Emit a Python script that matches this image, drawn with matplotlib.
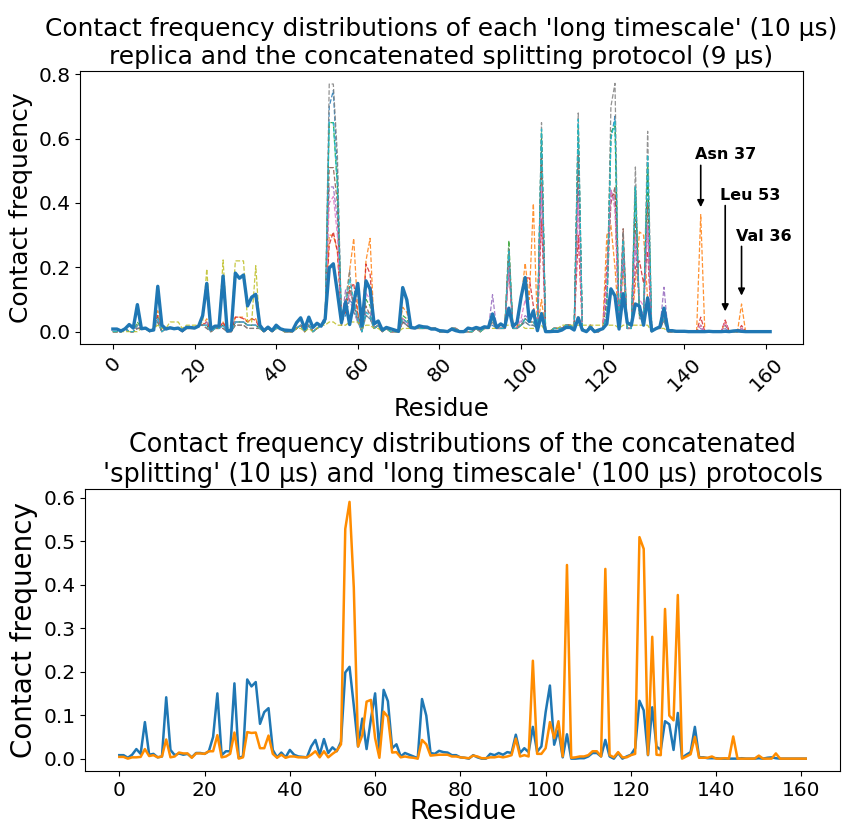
import numpy as np
import matplotlib
matplotlib.use('Agg')
import matplotlib.pyplot as plt

# residue index
residues = np.arange(162)

# concatenated splitting protocol
split = [0.008, 0.008, 0.002, 0.009, 0.022, 0.011, 0.084, 0.009, 0.011, 0.003,
         0.005, 0.141, 0.020, 0.008, 0.012, 0.009, 0.011, 0.003, 0.013, 0.013,
         0.011, 0.017, 0.050, 0.150, 0.008, 0.017, 0.017, 0.173, 0.002, 0.005,
         0.182, 0.166, 0.176, 0.080, 0.107, 0.116, 0.020, 0.003, 0.014, 0.003,
         0.020, 0.009, 0.005, 0.004, 0.003, 0.028, 0.043, 0.009, 0.045, 0.013,
         0.026, 0.017, 0.039, 0.198, 0.211, 0.122, 0.028, 0.092, 0.022, 0.090,
         0.150, 0.017, 0.158, 0.132, 0.024, 0.033, 0.005, 0.013, 0.009, 0.005,
         0.001, 0.137, 0.099, 0.013, 0.011, 0.018, 0.015, 0.014, 0.008, 0.008,
         0.003, 0.002, 0.000, 0.008, 0.003, 0.000, 0.000, 0.011, 0.008, 0.013,
         0.009, 0.015, 0.013, 0.055, 0.013, 0.024, 0.015, 0.073, 0.016, 0.028,
         0.107, 0.168, 0.032, 0.065, 0.003, 0.056, 0.000, 0.000, 0.001, 0.001,
         0.005, 0.013, 0.013, 0.005, 0.043, 0.005, 0.000, 0.013, 0.000, 0.005,
         0.009, 0.024, 0.133, 0.111, 0.008, 0.118, 0.028, 0.020, 0.086, 0.079,
         0.020, 0.105, 0.002, 0.009, 0.015, 0.073, 0.003, 0.003, 0.001, 0.001,
         0.001, 0.000, 0.000, 0.000, 0.000, 0.000, 0.001, 0.000, 0.000, 0.000,
         0.001, 0.000, 0.002, 0.003, 0.001, 0.000, 0.000, 0.000, 0.000, 0.000,
         0.000, 0.000]

# concatenated long timescale protocol
long_cat = [0.004, 0.004, 0.000, 0.003, 0.003, 0.004, 0.022, 0.006, 0.008, 0.003,
            0.005, 0.044, 0.003, 0.005, 0.014, 0.012, 0.012, 0.002, 0.012, 0.012,
            0.011, 0.017, 0.017, 0.054, 0.003, 0.005, 0.011, 0.060, 0.000, 0.003,
            0.061, 0.059, 0.060, 0.024, 0.024, 0.053, 0.011, 0.002, 0.009, 0.002,
            0.005, 0.005, 0.003, 0.003, 0.003, 0.009, 0.017, 0.003, 0.017, 0.003,
            0.011, 0.018, 0.033, 0.528, 0.590, 0.393, 0.028, 0.054, 0.131, 0.135,
            0.047, 0.002, 0.108, 0.096, 0.014, 0.015, 0.003, 0.005, 0.003, 0.002,
            0.000, 0.043, 0.033, 0.007, 0.008, 0.009, 0.009, 0.009, 0.005, 0.005,
            0.003, 0.002, 0.001, 0.007, 0.005, 0.001, 0.001, 0.003, 0.003, 0.005,
            0.003, 0.005, 0.008, 0.046, 0.005, 0.008, 0.005, 0.225, 0.011, 0.011,
            0.024, 0.084, 0.047, 0.086, 0.005, 0.445, 0.002, 0.003, 0.005, 0.005,
            0.008, 0.017, 0.017, 0.005, 0.436, 0.008, 0.003, 0.015, 0.003, 0.003,
            0.008, 0.011, 0.509, 0.482, 0.009, 0.280, 0.009, 0.008, 0.344, 0.099,
            0.088, 0.376, 0.000, 0.005, 0.010, 0.050, 0.002, 0.002, 0.002, 0.005,
            0.000, 0.000, 0.001, 0.000, 0.051, 0.000, 0.000, 0.000, 0.000, 0.000,
            0.007, 0.000, 0.000, 0.000, 0.012, 0.000, 0.000, 0.000, 0.000, 0.000,
            0.000, 0.000]

# the ten 10 us replicas (dashed lines in the top panel)
rep1 = [0.00, 0.00, 0.00, 0.01, 0.00, 0.00, 0.01, 0.01, 0.01, 0.00,
        0.01, 0.03, 0.00, 0.01, 0.01, 0.01, 0.01, 0.00, 0.01, 0.01,
        0.01, 0.02, 0.02, 0.02, 0.00, 0.01, 0.01, 0.02, 0.00, 0.00,
        0.03, 0.03, 0.03, 0.02, 0.02, 0.02, 0.01, 0.00, 0.01, 0.00,
        0.01, 0.01, 0.00, 0.00, 0.00, 0.01, 0.02, 0.00, 0.02, 0.00,
        0.01, 0.02, 0.03, 0.70, 0.75, 0.50, 0.03, 0.05, 0.10, 0.08,
        0.03, 0.00, 0.05, 0.04, 0.01, 0.02, 0.00, 0.01, 0.00, 0.00,
        0.00, 0.03, 0.02, 0.01, 0.01, 0.01, 0.01, 0.01, 0.01, 0.01,
        0.00, 0.00, 0.00, 0.01, 0.01, 0.00, 0.00, 0.00, 0.00, 0.01,
        0.00, 0.01, 0.01, 0.02, 0.01, 0.01, 0.01, 0.22, 0.01, 0.01,
        0.02, 0.03, 0.02, 0.02, 0.01, 0.60, 0.00, 0.00, 0.01, 0.01,
        0.01, 0.02, 0.02, 0.01, 0.60, 0.01, 0.00, 0.02, 0.00, 0.00,
        0.01, 0.05, 0.60, 0.67, 0.01, 0.25, 0.01, 0.01, 0.45, 0.05,
        0.05, 0.50, 0.00, 0.01, 0.01, 0.04, 0.00, 0.00, 0.00, 0.00,
        0.00, 0.00, 0.00, 0.00, 0.00, 0.00, 0.00, 0.00, 0.00, 0.00,
        0.00, 0.00, 0.00, 0.00, 0.00, 0.00, 0.00, 0.00, 0.00, 0.00,
        0.00, 0.00]
rep2 = [0.00, 0.00, 0.00, 0.01, 0.00, 0.00, 0.02, 0.01, 0.01, 0.00,
        0.01, 0.065, 0.00, 0.01, 0.01, 0.01, 0.01, 0.00, 0.01, 0.01,
        0.01, 0.02, 0.02, 0.04, 0.00, 0.01, 0.01, 0.03, 0.00, 0.00,
        0.045, 0.045, 0.045, 0.03, 0.04, 0.04, 0.01, 0.00, 0.01, 0.00,
        0.01, 0.01, 0.00, 0.00, 0.00, 0.01, 0.02, 0.00, 0.02, 0.00,
        0.01, 0.02, 0.03, 0.30, 0.30, 0.25, 0.05, 0.06, 0.19, 0.29,
        0.06, 0.00, 0.22, 0.29, 0.01, 0.02, 0.00, 0.01, 0.00, 0.00,
        0.00, 0.076, 0.06, 0.01, 0.01, 0.01, 0.01, 0.01, 0.01, 0.01,
        0.00, 0.00, 0.00, 0.01, 0.01, 0.00, 0.00, 0.00, 0.00, 0.01,
        0.00, 0.01, 0.01, 0.04, 0.01, 0.01, 0.01, 0.20, 0.01, 0.01,
        0.10, 0.213, 0.10, 0.398, 0.01, 0.10, 0.00, 0.00, 0.01, 0.01,
        0.01, 0.02, 0.02, 0.01, 0.05, 0.01, 0.00, 0.02, 0.00, 0.00,
        0.01, 0.30, 0.33, 0.20, 0.01, 0.20, 0.01, 0.01, 0.15, 0.31,
        0.30, 0.10, 0.00, 0.01, 0.01, 0.05, 0.00, 0.00, 0.00, 0.00,
        0.00, 0.00, 0.00, 0.00, 0.364, 0.00, 0.00, 0.00, 0.00, 0.00,
        0.03, 0.00, 0.00, 0.00, 0.086, 0.00, 0.00, 0.00, 0.00, 0.00,
        0.00, 0.00]
rep3 = [0.00, 0.00, 0.00, 0.01, 0.00, 0.00, 0.03, 0.01, 0.01, 0.00,
        0.01, 0.045, 0.00, 0.01, 0.01, 0.01, 0.01, 0.00, 0.01, 0.01,
        0.01, 0.02, 0.02, 0.02, 0.00, 0.01, 0.01, 0.02, 0.00, 0.00,
        0.03, 0.03, 0.03, 0.02, 0.02, 0.02, 0.01, 0.00, 0.01, 0.00,
        0.01, 0.01, 0.00, 0.00, 0.00, 0.01, 0.02, 0.00, 0.02, 0.00,
        0.01, 0.02, 0.03, 0.65, 0.65, 0.45, 0.03, 0.08, 0.12, 0.10,
        0.04, 0.00, 0.10, 0.08, 0.01, 0.02, 0.00, 0.01, 0.00, 0.00,
        0.00, 0.05, 0.04, 0.01, 0.01, 0.01, 0.01, 0.01, 0.01, 0.01,
        0.00, 0.00, 0.00, 0.01, 0.01, 0.00, 0.00, 0.00, 0.00, 0.01,
        0.00, 0.01, 0.01, 0.04, 0.01, 0.01, 0.01, 0.283, 0.01, 0.01,
        0.02, 0.04, 0.03, 0.03, 0.01, 0.62, 0.00, 0.00, 0.01, 0.01,
        0.01, 0.02, 0.02, 0.01, 0.64, 0.01, 0.00, 0.02, 0.00, 0.00,
        0.01, 0.10, 0.62, 0.64, 0.01, 0.25, 0.01, 0.01, 0.45, 0.05,
        0.05, 0.52, 0.00, 0.01, 0.01, 0.05, 0.00, 0.00, 0.00, 0.00,
        0.00, 0.00, 0.00, 0.00, 0.00, 0.00, 0.00, 0.00, 0.00, 0.00,
        0.00, 0.00, 0.00, 0.00, 0.00, 0.00, 0.00, 0.00, 0.00, 0.00,
        0.00, 0.00]
rep4 = [0.00, 0.00, 0.00, 0.01, 0.00, 0.00, 0.02, 0.01, 0.01, 0.00,
        0.01, 0.05, 0.00, 0.01, 0.01, 0.01, 0.01, 0.00, 0.01, 0.01,
        0.01, 0.02, 0.02, 0.03, 0.00, 0.01, 0.01, 0.03, 0.00, 0.00,
        0.045, 0.045, 0.04, 0.03, 0.04, 0.035, 0.01, 0.00, 0.01, 0.00,
        0.01, 0.01, 0.00, 0.00, 0.00, 0.01, 0.02, 0.00, 0.02, 0.00,
        0.01, 0.02, 0.04, 0.27, 0.31, 0.25, 0.04, 0.06, 0.13, 0.15,
        0.05, 0.00, 0.21, 0.18, 0.01, 0.02, 0.00, 0.01, 0.00, 0.00,
        0.00, 0.04, 0.03, 0.01, 0.01, 0.01, 0.01, 0.01, 0.01, 0.01,
        0.00, 0.00, 0.00, 0.01, 0.01, 0.00, 0.00, 0.00, 0.00, 0.01,
        0.00, 0.01, 0.01, 0.05, 0.01, 0.01, 0.01, 0.22, 0.01, 0.01,
        0.10, 0.167, 0.167, 0.08, 0.01, 0.35, 0.00, 0.00, 0.01, 0.01,
        0.01, 0.02, 0.02, 0.01, 0.30, 0.01, 0.00, 0.02, 0.00, 0.00,
        0.01, 0.20, 0.42, 0.43, 0.01, 0.28, 0.01, 0.01, 0.20, 0.22,
        0.15, 0.25, 0.00, 0.01, 0.01, 0.04, 0.00, 0.00, 0.00, 0.00,
        0.00, 0.00, 0.00, 0.00, 0.045, 0.00, 0.00, 0.00, 0.00, 0.00,
        0.036, 0.00, 0.00, 0.00, 0.019, 0.00, 0.00, 0.00, 0.00, 0.00,
        0.00, 0.00]
rep5 = [0.00, 0.00, 0.00, 0.01, 0.00, 0.00, 0.01, 0.01, 0.01, 0.00,
        0.01, 0.04, 0.00, 0.01, 0.01, 0.01, 0.01, 0.00, 0.01, 0.01,
        0.01, 0.02, 0.02, 0.03, 0.00, 0.01, 0.01, 0.02, 0.00, 0.00,
        0.03, 0.03, 0.03, 0.02, 0.02, 0.02, 0.01, 0.00, 0.01, 0.00,
        0.01, 0.01, 0.00, 0.00, 0.00, 0.01, 0.02, 0.00, 0.02, 0.00,
        0.01, 0.02, 0.05, 0.45, 0.45, 0.35, 0.03, 0.13, 0.10, 0.06,
        0.03, 0.00, 0.06, 0.06, 0.01, 0.02, 0.00, 0.01, 0.00, 0.00,
        0.00, 0.03, 0.03, 0.01, 0.01, 0.01, 0.01, 0.01, 0.01, 0.01,
        0.00, 0.00, 0.00, 0.01, 0.01, 0.00, 0.00, 0.00, 0.00, 0.01,
        0.00, 0.01, 0.01, 0.115, 0.01, 0.01, 0.01, 0.20, 0.01, 0.01,
        0.03, 0.05, 0.04, 0.05, 0.01, 0.45, 0.00, 0.00, 0.01, 0.01,
        0.01, 0.02, 0.02, 0.01, 0.45, 0.01, 0.00, 0.02, 0.00, 0.00,
        0.01, 0.15, 0.44, 0.40, 0.01, 0.22, 0.01, 0.01, 0.265, 0.08,
        0.05, 0.33, 0.00, 0.01, 0.01, 0.138, 0.00, 0.00, 0.00, 0.00,
        0.00, 0.00, 0.00, 0.00, 0.01, 0.00, 0.00, 0.00, 0.00, 0.00,
        0.01, 0.00, 0.00, 0.00, 0.00, 0.00, 0.00, 0.00, 0.00, 0.00,
        0.00, 0.00]
rep6 = [0.00, 0.00, 0.00, 0.01, 0.00, 0.00, 0.01, 0.01, 0.01, 0.00,
        0.01, 0.03, 0.00, 0.01, 0.01, 0.01, 0.01, 0.00, 0.01, 0.01,
        0.01, 0.02, 0.02, 0.01, 0.00, 0.01, 0.01, 0.01, 0.00, 0.00,
        0.02, 0.02, 0.02, 0.01, 0.01, 0.01, 0.01, 0.00, 0.01, 0.00,
        0.01, 0.01, 0.00, 0.00, 0.00, 0.01, 0.02, 0.00, 0.02, 0.00,
        0.01, 0.02, 0.03, 0.51, 0.51, 0.40, 0.02, 0.09, 0.14, 0.08,
        0.05, 0.00, 0.08, 0.05, 0.01, 0.02, 0.00, 0.01, 0.00, 0.00,
        0.00, 0.03, 0.02, 0.01, 0.01, 0.01, 0.01, 0.01, 0.01, 0.01,
        0.00, 0.00, 0.00, 0.01, 0.01, 0.00, 0.00, 0.00, 0.00, 0.01,
        0.00, 0.01, 0.01, 0.03, 0.01, 0.01, 0.01, 0.25, 0.01, 0.01,
        0.02, 0.04, 0.03, 0.03, 0.01, 0.55, 0.00, 0.00, 0.01, 0.01,
        0.01, 0.02, 0.02, 0.01, 0.55, 0.01, 0.00, 0.02, 0.00, 0.00,
        0.01, 0.10, 0.40, 0.45, 0.01, 0.32, 0.01, 0.01, 0.35, 0.05,
        0.05, 0.40, 0.00, 0.01, 0.01, 0.04, 0.00, 0.00, 0.00, 0.00,
        0.00, 0.00, 0.00, 0.00, 0.02, 0.00, 0.00, 0.00, 0.00, 0.00,
        0.02, 0.00, 0.00, 0.00, 0.01, 0.00, 0.00, 0.00, 0.00, 0.00,
        0.00, 0.00]
rep7 = [0.00, 0.00, 0.00, 0.01, 0.00, 0.00, 0.02, 0.01, 0.01, 0.00,
        0.01, 0.04, 0.00, 0.01, 0.01, 0.01, 0.01, 0.00, 0.01, 0.01,
        0.01, 0.02, 0.02, 0.02, 0.00, 0.01, 0.01, 0.02, 0.00, 0.00,
        0.03, 0.03, 0.03, 0.02, 0.02, 0.02, 0.01, 0.00, 0.01, 0.00,
        0.01, 0.01, 0.00, 0.00, 0.00, 0.01, 0.02, 0.00, 0.02, 0.00,
        0.01, 0.02, 0.04, 0.40, 0.42, 0.30, 0.03, 0.08, 0.12, 0.10,
        0.04, 0.00, 0.12, 0.10, 0.01, 0.02, 0.00, 0.01, 0.00, 0.00,
        0.00, 0.04, 0.03, 0.01, 0.01, 0.01, 0.01, 0.01, 0.01, 0.01,
        0.00, 0.00, 0.00, 0.01, 0.01, 0.00, 0.00, 0.00, 0.00, 0.01,
        0.00, 0.01, 0.01, 0.05, 0.01, 0.01, 0.01, 0.20, 0.01, 0.01,
        0.04, 0.10, 0.05, 0.06, 0.01, 0.45, 0.00, 0.00, 0.01, 0.01,
        0.01, 0.02, 0.02, 0.01, 0.40, 0.01, 0.00, 0.02, 0.00, 0.00,
        0.01, 0.15, 0.44, 0.38, 0.01, 0.25, 0.01, 0.01, 0.30, 0.10,
        0.08, 0.33, 0.00, 0.01, 0.01, 0.05, 0.00, 0.00, 0.00, 0.00,
        0.00, 0.00, 0.00, 0.00, 0.02, 0.00, 0.00, 0.00, 0.00, 0.00,
        0.03, 0.00, 0.00, 0.00, 0.01, 0.00, 0.00, 0.00, 0.00, 0.00,
        0.00, 0.00]
rep8 = [0.00, 0.00, 0.00, 0.01, 0.00, 0.00, 0.01, 0.01, 0.01, 0.00,
        0.01, 0.03, 0.00, 0.01, 0.01, 0.01, 0.01, 0.00, 0.01, 0.01,
        0.01, 0.02, 0.02, 0.01, 0.00, 0.01, 0.01, 0.01, 0.00, 0.00,
        0.02, 0.02, 0.02, 0.01, 0.01, 0.01, 0.01, 0.00, 0.01, 0.00,
        0.01, 0.01, 0.00, 0.00, 0.00, 0.01, 0.02, 0.00, 0.02, 0.00,
        0.01, 0.02, 0.03, 0.77, 0.77, 0.55, 0.02, 0.10, 0.19, 0.06,
        0.04, 0.00, 0.05, 0.04, 0.01, 0.02, 0.00, 0.01, 0.00, 0.00,
        0.00, 0.03, 0.02, 0.01, 0.01, 0.01, 0.01, 0.01, 0.01, 0.01,
        0.00, 0.00, 0.00, 0.01, 0.01, 0.00, 0.00, 0.00, 0.00, 0.01,
        0.00, 0.01, 0.01, 0.03, 0.01, 0.01, 0.01, 0.26, 0.01, 0.01,
        0.02, 0.03, 0.02, 0.02, 0.01, 0.65, 0.00, 0.00, 0.01, 0.01,
        0.01, 0.02, 0.02, 0.01, 0.68, 0.01, 0.00, 0.02, 0.00, 0.00,
        0.01, 0.05, 0.70, 0.772, 0.01, 0.31, 0.01, 0.01, 0.512, 0.04,
        0.04, 0.623, 0.00, 0.01, 0.01, 0.03, 0.00, 0.00, 0.00, 0.00,
        0.00, 0.00, 0.00, 0.00, 0.00, 0.00, 0.00, 0.00, 0.00, 0.00,
        0.00, 0.00, 0.00, 0.00, 0.00, 0.00, 0.00, 0.00, 0.00, 0.00,
        0.00, 0.00]
rep9 = [0.00, 0.00, 0.00, 0.00, 0.00, 0.00, 0.00, 0.01, 0.01, 0.00,
        0.01, 0.02, 0.01, 0.01, 0.03, 0.03, 0.03, 0.01, 0.02, 0.02,
        0.02, 0.02, 0.03, 0.195, 0.01, 0.01, 0.02, 0.223, 0.01, 0.02,
        0.22, 0.22, 0.22, 0.03, 0.03, 0.205, 0.01, 0.00, 0.01, 0.00,
        0.01, 0.01, 0.00, 0.00, 0.00, 0.01, 0.01, 0.00, 0.01, 0.00,
        0.01, 0.02, 0.02, 0.03, 0.03, 0.02, 0.02, 0.02, 0.03, 0.03,
        0.03, 0.01, 0.02, 0.02, 0.01, 0.01, 0.00, 0.01, 0.00, 0.00,
        0.00, 0.01, 0.01, 0.01, 0.01, 0.01, 0.01, 0.01, 0.01, 0.01,
        0.00, 0.00, 0.00, 0.01, 0.01, 0.00, 0.00, 0.00, 0.00, 0.01,
        0.00, 0.01, 0.01, 0.01, 0.01, 0.02, 0.02, 0.02, 0.02, 0.02,
        0.02, 0.01, 0.01, 0.01, 0.01, 0.02, 0.00, 0.00, 0.01, 0.01,
        0.02, 0.02, 0.02, 0.02, 0.02, 0.02, 0.02, 0.02, 0.02, 0.02,
        0.02, 0.02, 0.02, 0.02, 0.01, 0.02, 0.02, 0.02, 0.02, 0.02,
        0.02, 0.02, 0.00, 0.01, 0.01, 0.01, 0.00, 0.00, 0.00, 0.00,
        0.00, 0.00, 0.00, 0.00, 0.00, 0.00, 0.00, 0.00, 0.00, 0.00,
        0.00, 0.00, 0.00, 0.00, 0.00, 0.00, 0.00, 0.00, 0.00, 0.00,
        0.00, 0.00]
rep10 = [0.00, 0.00, 0.00, 0.01, 0.00, 0.00, 0.02, 0.01, 0.01, 0.00,
         0.01, 0.04, 0.00, 0.01, 0.01, 0.01, 0.01, 0.00, 0.01, 0.01,
         0.01, 0.02, 0.02, 0.02, 0.00, 0.01, 0.01, 0.02, 0.00, 0.00,
         0.03, 0.03, 0.03, 0.02, 0.02, 0.02, 0.01, 0.00, 0.01, 0.00,
         0.01, 0.01, 0.00, 0.00, 0.00, 0.01, 0.02, 0.00, 0.02, 0.00,
         0.01, 0.02, 0.03, 0.65, 0.65, 0.45, 0.03, 0.08, 0.165, 0.10,
         0.04, 0.00, 0.06, 0.05, 0.01, 0.02, 0.00, 0.01, 0.00, 0.00,
         0.00, 0.04, 0.03, 0.01, 0.01, 0.01, 0.01, 0.01, 0.01, 0.01,
         0.00, 0.00, 0.00, 0.01, 0.01, 0.00, 0.00, 0.00, 0.00, 0.01,
         0.00, 0.01, 0.01, 0.04, 0.01, 0.01, 0.01, 0.25, 0.01, 0.01,
         0.02, 0.04, 0.03, 0.03, 0.01, 0.63, 0.00, 0.00, 0.01, 0.01,
         0.01, 0.02, 0.02, 0.01, 0.66, 0.01, 0.00, 0.02, 0.00, 0.00,
         0.01, 0.05, 0.60, 0.657, 0.01, 0.28, 0.01, 0.01, 0.45, 0.05,
         0.05, 0.55, 0.00, 0.01, 0.01, 0.04, 0.00, 0.00, 0.00, 0.00,
         0.00, 0.00, 0.00, 0.00, 0.00, 0.00, 0.00, 0.00, 0.00, 0.00,
         0.00, 0.00, 0.00, 0.00, 0.00, 0.00, 0.00, 0.00, 0.00, 0.00,
         0.00, 0.00]
replicas = [rep1, rep2, rep3, rep4, rep5, rep6, rep7, rep8, rep9, rep10]

# labelled residues
labels = ['Asn 37', 'Leu 53', 'Val 36']
label_res = [144, 150, 154]
arrow_top = [0.517, 0.392, 0.265]
arrow_tip = [0.387, 0.063, 0.112]
text_y = [0.551, 0.424, 0.297]

fig = plt.figure(figsize=(8.44, 8.30), dpi=100)

# top panel
ax1 = fig.add_axes([0.0948, 0.5855, 0.8566, 0.329])
for i, rep in enumerate(replicas):
    ax1.plot(residues, rep, linestyle='--', linewidth=0.9, color='C%d' % i, alpha=0.85)
ax1.plot(residues, split, color='C0', linewidth=2.4)
for lab, r, a0, a1, ty in zip(labels, label_res, arrow_top, arrow_tip, text_y):
    ax1.text(r - 1.3, ty, lab, fontsize=11.5, fontweight='bold', va='center', ha='left')
    ax1.annotate('', xy=(r, a1), xytext=(r, a0),
                 arrowprops=dict(arrowstyle='-|>', color='black', lw=1.2, mutation_scale=10,
                                 shrinkA=0, shrinkB=0))
ax1.set_title("Contact frequency distributions of each 'long timescale' (10 µs)\n"
              "replica and the concatenated splitting protocol (9 µs)", fontsize=17.9, pad=5)
ax1.set_xlabel('Residue', fontsize=17.5, labelpad=2)
ax1.set_ylabel('Contact frequency', fontsize=18)
ax1.set_xticks(np.arange(0, 161, 20))
ax1.tick_params(axis='both', labelsize=14.5)
ax1.tick_params(axis='x', labelrotation=45)

# bottom panel
ax2 = fig.add_axes([0.1007, 0.0705, 0.8946, 0.3403])
ax2.plot(residues, split, color='C0', linewidth=1.8)
ax2.plot(residues, long_cat, color='darkorange', linewidth=1.8)
ax2.set_title("Contact frequency distributions of the concatenated\n"
              "'splitting' (10 µs) and 'long timescale' (100 µs) protocols", fontsize=18.4, pad=5)
ax2.set_xlabel('Residue', fontsize=19.5, labelpad=-1)
ax2.set_ylabel('Contact frequency', fontsize=20)
ax2.set_xticks(np.arange(0, 161, 20))
ax2.tick_params(axis='both', labelsize=14.5)

fig.savefig('out.png', dpi=100)
